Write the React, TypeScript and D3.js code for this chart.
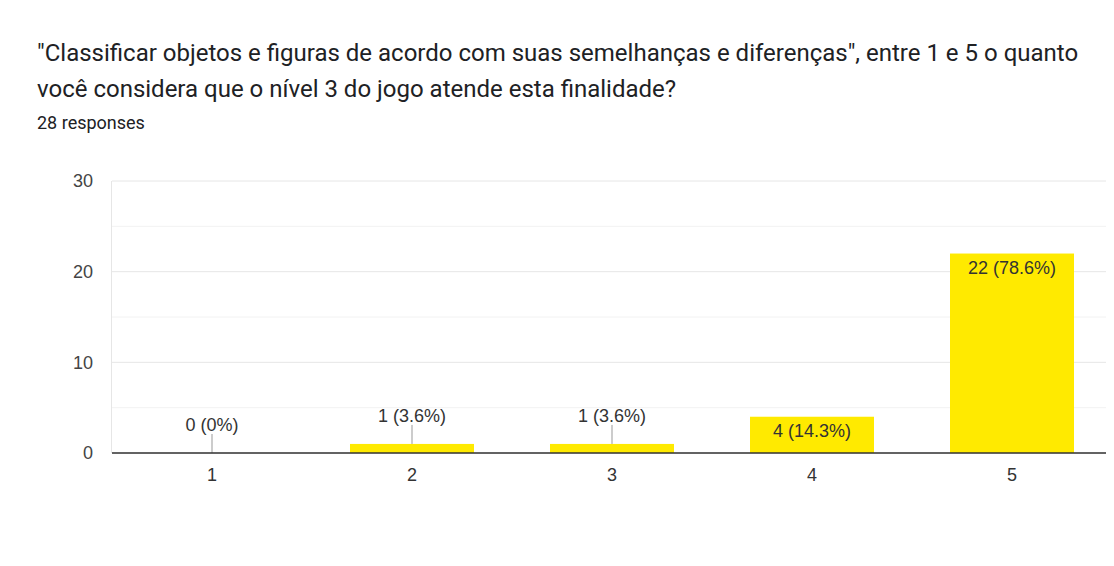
import React from "react";
import * as d3 from "d3";

const categories = ["1", "2", "3", "4", "5"];
const counts = [0, 1, 1, 4, 22];
const percentLabels = ["0%", "3.6%", "3.6%", "14.3%", "78.6%"];
const yTicks = [0, 10, 20, 30];
const gridTicks = [0, 5, 10, 15, 20, 25, 30];

const titleLines = [
  "\"Classificar objetos e figuras de acordo com suas semelhanças e diferenças\", entre 1 e 5 o quanto",
  "você considera que o nível 3 do jogo atende esta finalidade?",
];
const subtitle = "28 responses";

const W = 1114;
const H = 566;
const plot = { left: 112, right: 1112, top: 181, bottom: 453 };
const titleFont = "Roboto, Arial, sans-serif";
const labelFont = "Arial, 'Liberation Sans', sans-serif";

export default function App() {
  const x = d3
    .scaleBand()
    .domain(categories)
    .range([plot.left, plot.right])
    .paddingInner(0.38)
    .paddingOuter(0.19);

  const y = d3.scaleLinear().domain([0, 30]).range([plot.bottom, plot.top]);

  return (
    <div style={{ margin: -8 }}>
      <svg width={W} height={H} style={{ display: "block", background: "#fff" }}>
        {titleLines.map((t, i) => (
          <text key={i} x={37} y={61 + i * 36} fontFamily={titleFont} fontSize={24} fill="#202124">
            {t}
          </text>
        ))}
        <text x={37} y={129} fontFamily={titleFont} fontSize={18} fill="#202124">
          {subtitle}
        </text>

        {gridTicks.map((t) => (
          <line
            key={t}
            x1={plot.left}
            x2={plot.right}
            y1={y(t)}
            y2={y(t)}
            stroke={t % 10 === 0 ? "#e6e6e6" : "#f2f2f2"}
            strokeWidth={1}
          />
        ))}
        <line x1={plot.left - 0.5} x2={plot.left - 0.5} y1={plot.top} y2={plot.bottom} stroke="#e6e6e6" />
        <line x1={plot.right + 0.5} x2={plot.right + 0.5} y1={plot.top} y2={plot.bottom} stroke="#e6e6e6" />

        {yTicks.map((t) => (
          <text
            key={t}
            x={93}
            y={y(t)}
            dy="0.35em"
            textAnchor="end"
            fontFamily={labelFont}
            fontSize={18}
            fill="#444"
          >
            {t}
          </text>
        ))}

        {categories.map((c, i) => {
          const v = counts[i];
          const bx = x(c) as number;
          const bw = x.bandwidth();
          const cx = bx + bw / 2;
          const top = y(v);
          const label = `${v} (${percentLabels[i]})`;
          const inside = plot.bottom - top > 25;
          return (
            <g key={c}>
              {v > 0 && (
                <rect x={bx} y={top} width={bw} height={plot.bottom - top} fill="#ffea00" />
              )}
              {inside ? (
                <text x={cx} y={top + 20} textAnchor="middle" fontFamily={labelFont} fontSize={18} fill="#333">
                  {label}
                </text>
              ) : (
                <g>
                  <line x1={cx} x2={cx} y1={top} y2={top - 19} stroke="#999" />
                  <text x={cx} y={top - 22} textAnchor="middle" fontFamily={labelFont} fontSize={18} fill="#333">
                    {label}
                  </text>
                </g>
              )}
              <text
                x={cx}
                y={481}
                textAnchor="middle"
                fontFamily={labelFont}
                fontSize={18}
                fill="#333"
              >
                {c}
              </text>
            </g>
          );
        })}

        <line x1={plot.left} x2={plot.right} y1={plot.bottom} y2={plot.bottom} stroke="#333" strokeWidth={1.5} />
      </svg>
    </div>
  );
}
